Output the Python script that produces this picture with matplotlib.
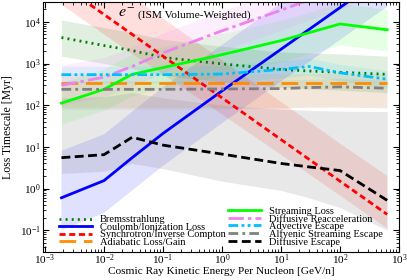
import matplotlib
matplotlib.use('Agg')
import matplotlib.pyplot as plt
import numpy as np

plt.rcParams['font.family'] = 'serif'
plt.rcParams['font.serif'] = ['Liberation Serif', 'DejaVu Serif']
plt.rcParams['mathtext.fontset'] = 'stix'

# 能量网格 [GeV/n]
energy = [1.9e-3, 0.01, 0.03, 0.1, 1, 10, 30, 100, 630]

# 各过程的时标 [Myr]
brems = [4200, 2700, 2050, 1400, 980, 720, 660, 615, 550]
coulomb = [0.6, 1.55, 5.5, 21, 220, 2200, 6600, 22000, 140000]
synch = [79000, 15000, 5000, 1500, 150, 15, 5, 1.5, 0.24]
adiabatic = [350, 350, 350, 350, 350, 350, 350, 350, 350]
streaming = [112, 240, 550, 800, 1630, 3540, 5500, 8900, 6450]
reaccel = [300, 470, 850, 1800, 6100, 19000, 34000, 60000, 150000]
advective = [540, 540, 540, 540, 560, 720, 850, 600, 420]
alfvenic = [240, 240, 240, 240, 245, 250, 265, 275, 255]
diffusive = [5.5, 6.5, 17, 11, 6.7, 4.0, 3.3, 2.7, 0.52]

# 阴影带 (下限, 上限)
brems_lo = [1500, 1000, 760, 520, 360, 270, 245, 230, 200]
brems_hi = [11000, 7300, 5500, 3800, 2600, 1900, 1800, 1700, 1500]
coulomb_lo = [0.1, 0.26, 0.9, 3.5, 37, 370, 1100, 3700, 23000]
coulomb_hi = [8, 20, 70, 270, 2800, 28000, 85000, 280000, 1800000]
synch_lo = [26000, 5000, 1700, 550, 60, 6.5, 2.2, 0.68, 0.11]
synch_hi = [600000, 120000, 40000, 12000, 1200, 120, 40, 12, 2]
adiabatic_lo = [85, 85, 85, 85, 85, 85, 85, 85, 85]
adiabatic_hi = [550, 550, 550, 550, 550, 550, 550, 550, 550]
streaming_lo = [35, 75, 170, 250, 520, 1100, 1700, 2800, 2000]
streaming_hi = [350, 750, 1700, 2500, 5200, 11000, 17000, 28000, 20000]
reaccel_lo = [100, 160, 280, 600, 2000, 6300, 11000, 20000, 50000]
reaccel_hi = [900, 1400, 2500, 5400, 18000, 57000, 100000, 180000, 450000]
advective_lo = [340, 340, 340, 340, 350, 450, 530, 380, 260]
advective_hi = [860, 860, 860, 860, 900, 1150, 1350, 950, 670]
alfvenic_lo = [80, 80, 80, 80, 82, 85, 90, 92, 85]
alfvenic_hi = [380, 380, 380, 380, 390, 400, 420, 440, 400]
diffusive_lo = [2.3, 2.6, 4, 3, 1.5, 0.9, 0.6, 0.35, 0.1]
diffusive_hi = [150, 160, 200, 150, 100, 80, 75, 72, 70]

fig = plt.figure(figsize=(4.07, 2.80), dpi=100)
ax = fig.add_axes([0.1057, 0.1, 0.8747, 0.893])

# 绘制阴影带
bands = [
    (brems_lo, brems_hi, 'green', 0.12),
    (coulomb_lo, coulomb_hi, 'blue', 0.12),
    (synch_lo, synch_hi, 'red', 0.13),
    (adiabatic_lo, adiabatic_hi, 'darkorange', 0.1),
    (streaming_lo, streaming_hi, 'lime', 0.1),
    (reaccel_lo, reaccel_hi, 'violet', 0.13),
    (advective_lo, advective_hi, 'deepskyblue', 0.1),
    (alfvenic_lo, alfvenic_hi, 'gray', 0.1),
    (diffusive_lo, diffusive_hi, 'gray', 0.18),
]
for lo, hi, c, a in bands:
    ax.fill_between(energy, lo, hi, color=c, alpha=a, lw=0)

lw = 2.0
h_brems, = ax.plot(energy, brems, color='green', ls=(0, (0.7, 1.5)), lw=lw,
                   label='Bremsstrahlung')
h_coul, = ax.plot(energy, coulomb, color='blue', ls='-', lw=lw,
                  label='Coulomb/Ionization Loss')
h_synch, = ax.plot(energy, synch, color='red', ls=(0, (2.2, 1.3)), lw=lw,
                   label='Synchrotron/Inverse Compton')
h_adia, = ax.plot(energy, adiabatic, color='darkorange', ls=(0, (6, 2.8)), lw=lw,
                  label='Adiabatic Loss/Gain')
h_stream, = ax.plot(energy, streaming, color='lime', ls='-', lw=lw,
                    label='Streaming Loss')
h_reacc, = ax.plot(energy, reaccel, color='violet', ls=(0, (5.5, 1.5, 1.2, 1.5)), lw=lw,
                   label='Diffusive Reacceleration')
h_adv, = ax.plot(energy, advective, color='deepskyblue',
                 ls=(0, (3.5, 1.2, 1, 1.2, 1, 1.2)), lw=lw,
                 label='Advective Escape')
h_alf, = ax.plot(energy, alfvenic, color='gray', ls=(0, (3.5, 1.5, 1, 1.5)), lw=lw,
                 label='Alfvenic Streaming Escape')
h_diff, = ax.plot(energy, diffusive, color='black', ls=(0, (3.2, 1.6)), lw=lw,
                  label='Diffusive Escape')

ax.set_xscale('log')
ax.set_yscale('log')
ax.set_xlim(9.25e-4, 1e3)
ax.set_ylim(3e-2, 3e4)
ax.tick_params(which='both', direction='in', top=True, right=True, labelsize=8)
ax.tick_params(which='major', length=4, width=0.8)
ax.tick_params(axis='x', which='major', pad=0.3)
ax.tick_params(axis='y', which='major', pad=1.5)
ax.tick_params(which='minor', length=2, width=0.6)
ax.set_xlabel('Cosmic Ray Kinetic Energy Per Nucleon [GeV/n]', fontsize=8.1, labelpad=0)
ax.set_ylabel('Loss Timescale [Myr]', fontsize=8.5, labelpad=4)

ax.text(0.212, 0.955, r'$e^{-}$', transform=ax.transAxes, fontsize=11.5, va='center')
ax.text(0.268, 0.948, '(ISM Volume-Weighted)', transform=ax.transAxes, fontsize=8.2,
        va='center')

leg_kw = dict(frameon=False, fontsize=7.5, handlelength=3.2, handletextpad=0.75,
              labelspacing=-0.17, borderpad=0, borderaxespad=0)
leg1 = ax.legend(handles=[h_brems, h_coul, h_synch, h_adia], loc='lower left',
                 bbox_to_anchor=(0.045, 0.02), **leg_kw)
ax.add_artist(leg1)
ax.legend(handles=[h_stream, h_reacc, h_adv, h_alf, h_diff], loc='lower left',
          bbox_to_anchor=(0.52, 0.02), **leg_kw)

fig.savefig('out.png', dpi=100)
